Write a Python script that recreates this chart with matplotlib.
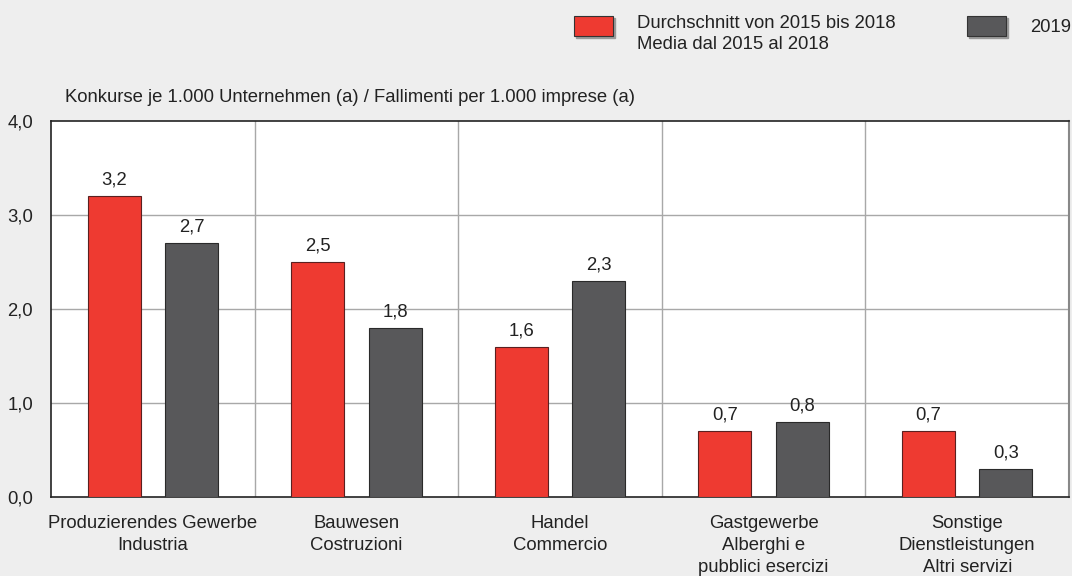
import numpy as np
import matplotlib.pyplot as plt
from matplotlib.patches import Rectangle

categories = ["Produzierendes Gewerbe\nIndustria", "Bauwesen\nCostruzioni", "Handel\nCommercio",
              "Gastgewerbe\nAlberghi e\npubblici esercizi", "Sonstige\nDienstleistungen\nAltri servizi"]
avg_2015_2018 = [3.2, 2.5, 1.6, 0.7, 0.7]
values_2019 = [2.7, 1.8, 2.3, 0.8, 0.3]
legend_labels = ["Durchschnitt von 2015 bis 2018\nMedia dal 2015 al 2018", "2019"]
ylabel = "Konkurse je 1.000 Unternehmen (a) / Fallimenti per 1.000 imprese (a)"

RED = "#ee3a31"
DARK = "#58585a"
BG = "#eeeeee"
FS = 13.3

plt.rcParams["font.family"] = ["Liberation Sans", "DejaVu Sans"]
plt.rcParams["font.size"] = FS

W, H = 1072, 576
fig = plt.figure(figsize=(W / 100, H / 100), dpi=100, facecolor=BG)
ax = fig.add_axes([51 / W, 1 - 497 / H, (1069 - 51) / W, (497 - 121) / H])
ax.set_facecolor("white")

x = np.arange(len(categories))
w = 0.26
off = 0.19
b1 = ax.bar(x - off, avg_2015_2018, w, color=RED, edgecolor="#5a2020", linewidth=0.8, zorder=3)
b2 = ax.bar(x + off, values_2019, w, color=DARK, edgecolor="#2a2a2a", linewidth=0.8, zorder=3)

for bars, vals in ((b1, avg_2015_2018), (b2, values_2019)):
    for r, v in zip(bars, vals):
        ax.text(r.get_x() + r.get_width() / 2, v + 0.08, f"{v:.1f}".replace(".", ","),
                ha="center", va="bottom", fontsize=FS, color="#222222")

ax.set_xlim(-0.5, len(categories) - 0.5)
ax.set_ylim(0, 4)
ax.set_yticks([0, 1, 2, 3, 4])
ax.set_yticklabels([f"{t:.1f}".replace(".", ",") for t in [0, 1, 2, 3, 4]])
ax.set_xticks(x)
ax.set_xticklabels(categories, linespacing=1.38)
ax.tick_params(length=0, labelsize=FS, colors="#222222")
ax.tick_params(axis="x", pad=13)
ax.tick_params(axis="y", pad=13)

for yv in [1, 2, 3]:
    ax.axhline(yv, color="#a8a8a8", linewidth=1, zorder=1)
for xv in x[1:] - 0.5:
    ax.axvline(xv, color="#a8a8a8", linewidth=1, zorder=1)

for s in ["left", "top", "bottom"]:
    ax.spines[s].set_color("#222222")
    ax.spines[s].set_linewidth(1.2)
ax.spines["right"].set_color("#888888")
ax.spines["right"].set_linewidth(1.5)

fig.text(65 / W, 1 - 97 / H, ylabel, ha="left", va="center", fontsize=FS, color="#222222")

# legend drawn in figure coordinates
for (px, col), lab in zip([(574, RED), (967, DARK)], legend_labels):
    fig.add_artist(Rectangle(((px + 2) / W, 1 - 38 / H), 39 / W, 20 / H,
                             transform=fig.transFigure, color="#999999", zorder=1))
    fig.add_artist(Rectangle((px / W, 1 - 36 / H), 39 / W, 20 / H, transform=fig.transFigure,
                             facecolor=col, edgecolor="#333333", linewidth=0.8, zorder=2))
fig.text(637 / W, 1 - 34 / H, legend_labels[0], ha="left", va="center",
         fontsize=FS, color="#222222", linespacing=1.38)
fig.text(1030 / W, 1 - 28 / H, legend_labels[1], ha="left", va="center", fontsize=FS, color="#222222")

fig.savefig("out.png", dpi=100, facecolor=BG)
